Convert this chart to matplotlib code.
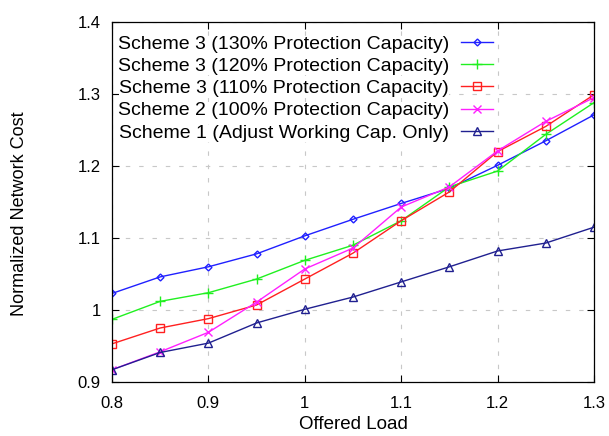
import matplotlib
matplotlib.use("Agg")
import matplotlib.pyplot as plt

plt.rcParams['font.family'] = ['Liberation Sans', 'DejaVu Sans']

# offered load
load = [0.8, 0.85, 0.9, 0.95, 1.0, 1.05, 1.1, 1.15, 1.2, 1.25, 1.3]

# normalized network cost per scheme
s3_130 = [1.023, 1.046, 1.060, 1.078, 1.103, 1.126, 1.148, 1.169, 1.201, 1.235, 1.271]
s3_120 = [0.987, 1.012, 1.024, 1.043, 1.069, 1.090, 1.124, 1.171, 1.193, 1.244, 1.288]
s3_110 = [0.953, 0.975, 0.988, 1.007, 1.043, 1.079, 1.124, 1.164, 1.220, 1.255, 1.299]
s2_100 = [0.917, 0.942, 0.969, 1.011, 1.057, 1.086, 1.143, 1.171, 1.221, 1.262, 1.295]
s1_adj = [0.917, 0.941, 0.954, 0.982, 1.001, 1.018, 1.039, 1.060, 1.082, 1.093, 1.115]

labels = ["Scheme 3 (130% Protection Capacity)",
          "Scheme 3 (120% Protection Capacity)",
          "Scheme 3 (110% Protection Capacity)",
          "Scheme 2 (100% Protection Capacity)",
          "Scheme 1 (Adjust Working Cap. Only)"]

xticks = [0.8, 0.9, 1.0, 1.1, 1.2, 1.3]
xticklabels = ["0.8", "0.9", "1", "1.1", "1.2", "1.3"]
yticks = [0.9, 1.0, 1.1, 1.2, 1.3, 1.4]
yticklabels = ["0.9", "1", "1.1", "1.2", "1.3", "1.4"]

fig = plt.figure(figsize=(6.09, 4.36), dpi=100)
ax = fig.add_axes([112 / 609, 54 / 436, 482 / 609, 360 / 436])

ax.plot(load, s3_130, color='#2020ff', lw=1, marker='D', ms=3.5, mfc='none', mew=1, label=labels[0])
ax.plot(load, s3_120, color='#20f020', lw=1, marker='+', ms=7, mew=1, label=labels[1])
ax.plot(load, s3_110, color='#ff2020', lw=1, marker='s', ms=5.5, mfc='none', mew=1, label=labels[2])
ax.plot(load, s2_100, color='#ff20ff', lw=1, marker='x', ms=6, mew=1, label=labels[3])
ax.plot(load, s1_adj, color='#202090', lw=1, marker='^', ms=6, mfc='none', mew=1, label=labels[4])

ax.set_xlim(0.8, 1.3)
ax.set_ylim(0.9, 1.4)
ax.set_xticks(xticks)
ax.set_xticklabels(xticklabels)
ax.set_yticks(yticks)
ax.set_yticklabels(yticklabels)
ax.tick_params(direction='in', length=5, width=0.8, top=True, right=True, labelsize=12)
ax.tick_params(axis='x', pad=10)
ax.tick_params(axis='y', pad=8)
ax.grid(True, color='#c8c8c8', ls=(0, (4, 8)), lw=0.8)
for sp in ax.spines.values():
    sp.set_linewidth(0.9)

ax.set_xlabel("Offered Load", fontsize=13.5, va='center', ha='center')
ax.xaxis.set_label_coords(0.5, -0.119)
ax.set_ylabel("Normalized Network Cost", fontsize=13, va='center', ha='center')
ax.yaxis.set_label_coords(-0.191, 0.467)

leg = ax.legend(loc='upper right', bbox_to_anchor=(493 / 609, (436 - 35) / 436),
                bbox_transform=fig.transFigure,
                frameon=False, markerfirst=False, fontsize=14, handlelength=1.65,
                handletextpad=0.62, labelspacing=0.24, borderpad=0, borderaxespad=0)
# key text hides the grid behind it, like the original
for t in leg.get_texts():
    t.set_bbox(dict(facecolor='white', edgecolor='none', pad=0))

fig.savefig("out.png", dpi=100)
